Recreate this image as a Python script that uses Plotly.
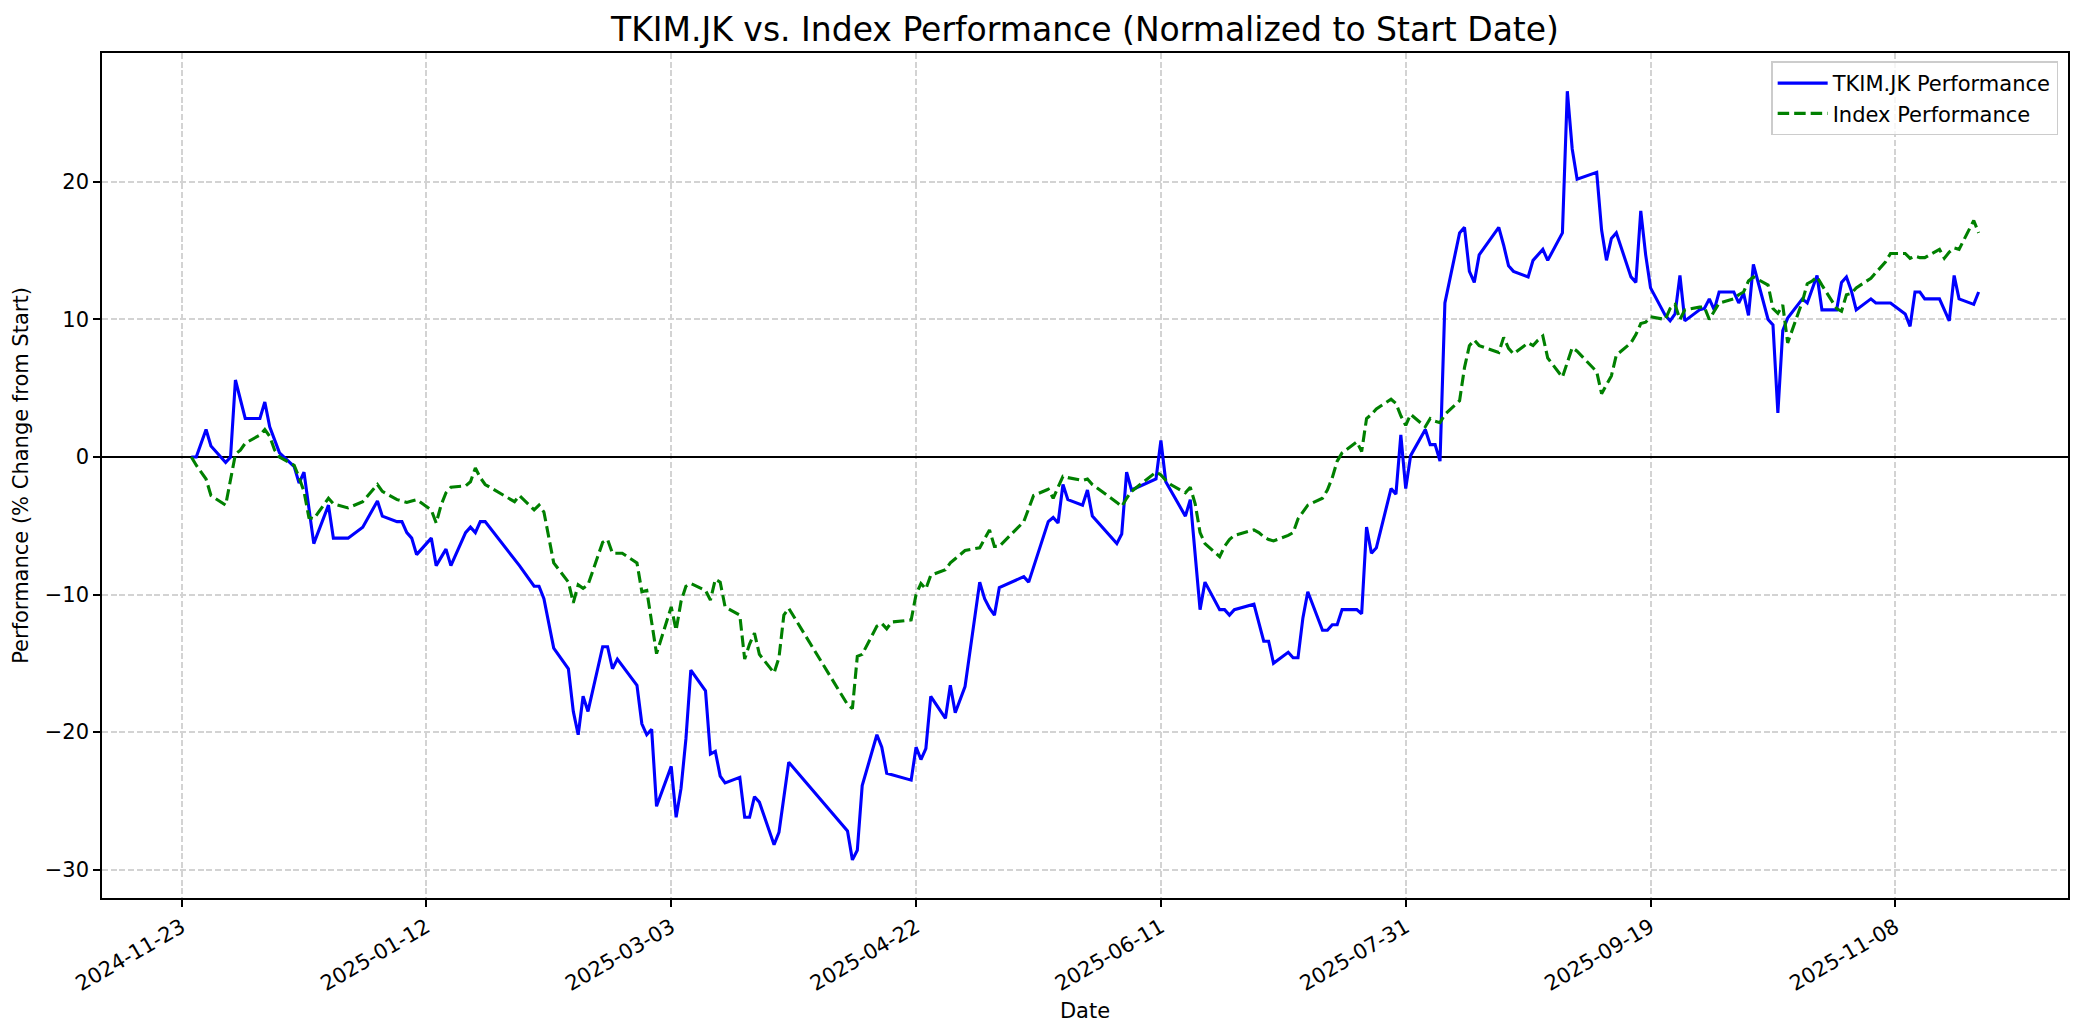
import plotly.graph_objects as go

# ---------------- data ----------------
tkim_dates = [
    "2024-11-25", "2024-11-26", "2024-11-28", "2024-11-29", "2024-12-02", "2024-12-03", "2024-12-04",
    "2024-12-06", "2024-12-09", "2024-12-10", "2024-12-11", "2024-12-13", "2024-12-16", "2024-12-17",
    "2024-12-18", "2024-12-20", "2024-12-23", "2024-12-24", "2024-12-27", "2024-12-30", "2025-01-02",
    "2025-01-03", "2025-01-06", "2025-01-07", "2025-01-08", "2025-01-09", "2025-01-10", "2025-01-13",
    "2025-01-14", "2025-01-16", "2025-01-17", "2025-01-20", "2025-01-21", "2025-01-22", "2025-01-23",
    "2025-01-24", "2025-01-31", "2025-02-03", "2025-02-04", "2025-02-05", "2025-02-07", "2025-02-10",
    "2025-02-11", "2025-02-12", "2025-02-13", "2025-02-14", "2025-02-17", "2025-02-18", "2025-02-19",
    "2025-02-20", "2025-02-24", "2025-02-25", "2025-02-26", "2025-02-27", "2025-02-28", "2025-03-03",
    "2025-03-04", "2025-03-05", "2025-03-06", "2025-03-07", "2025-03-10", "2025-03-11", "2025-03-12",
    "2025-03-13", "2025-03-14", "2025-03-17", "2025-03-18", "2025-03-19", "2025-03-20", "2025-03-21",
    "2025-03-24", "2025-03-25", "2025-03-27", "2025-04-08", "2025-04-09", "2025-04-10", "2025-04-11",
    "2025-04-14", "2025-04-15", "2025-04-16", "2025-04-21", "2025-04-22", "2025-04-23", "2025-04-24",
    "2025-04-25", "2025-04-28", "2025-04-29", "2025-04-30", "2025-05-02", "2025-05-05", "2025-05-06",
    "2025-05-07", "2025-05-08", "2025-05-09", "2025-05-14", "2025-05-15", "2025-05-19", "2025-05-20",
    "2025-05-21", "2025-05-22", "2025-05-23", "2025-05-26", "2025-05-27", "2025-05-28", "2025-06-02",
    "2025-06-03", "2025-06-04", "2025-06-05", "2025-06-10", "2025-06-11", "2025-06-12", "2025-06-16",
    "2025-06-17", "2025-06-19", "2025-06-20", "2025-06-23", "2025-06-24", "2025-06-25", "2025-06-26",
    "2025-06-30", "2025-07-02", "2025-07-03", "2025-07-04", "2025-07-07", "2025-07-08", "2025-07-09",
    "2025-07-10", "2025-07-11", "2025-07-14", "2025-07-15", "2025-07-16", "2025-07-17", "2025-07-18",
    "2025-07-21", "2025-07-22", "2025-07-23", "2025-07-24", "2025-07-25", "2025-07-28", "2025-07-29",
    "2025-07-30", "2025-07-31", "2025-08-01", "2025-08-04", "2025-08-05", "2025-08-06", "2025-08-07",
    "2025-08-08", "2025-08-11", "2025-08-12", "2025-08-13", "2025-08-14", "2025-08-15", "2025-08-19",
    "2025-08-20", "2025-08-21", "2025-08-22", "2025-08-25", "2025-08-26", "2025-08-28", "2025-08-29",
    "2025-09-01", "2025-09-02", "2025-09-03", "2025-09-04", "2025-09-08", "2025-09-09", "2025-09-10",
    "2025-09-11", "2025-09-12", "2025-09-15", "2025-09-16", "2025-09-17", "2025-09-18", "2025-09-19",
    "2025-09-22", "2025-09-23", "2025-09-24", "2025-09-25", "2025-09-26", "2025-09-29", "2025-09-30",
    "2025-10-01", "2025-10-02", "2025-10-03", "2025-10-06", "2025-10-07", "2025-10-08", "2025-10-09",
    "2025-10-10", "2025-10-13", "2025-10-14", "2025-10-15", "2025-10-16", "2025-10-17", "2025-10-20",
    "2025-10-21", "2025-10-23", "2025-10-24", "2025-10-27", "2025-10-28", "2025-10-29", "2025-10-30",
    "2025-10-31", "2025-11-03", "2025-11-04", "2025-11-07", "2025-11-10", "2025-11-11", "2025-11-12",
    "2025-11-13", "2025-11-14", "2025-11-17", "2025-11-19", "2025-11-20", "2025-11-21", "2025-11-24",
    "2025-11-25",
]
tkim_values = [
    0.0, 0.0, 2.0, 0.8, -0.4, 0.0, 5.6,
    2.8, 2.8, 4.0, 2.2, 0.3, -0.7, -1.9,
    -1.1, -6.3, -3.5, -5.9, -5.9, -5.1, -3.2,
    -4.3, -4.7, -4.7, -5.5, -5.9, -7.1, -5.9,
    -7.9, -6.7, -7.9, -5.5, -5.1, -5.5, -4.7,
    -4.7, -7.9, -9.4, -9.4, -10.3, -13.9, -15.4,
    -18.5, -20.2, -17.4, -18.5, -13.8, -13.8, -15.4,
    -14.7, -16.6, -19.4, -20.2, -19.8, -25.4, -22.5,
    -26.2, -24.1, -20.5, -15.5, -17.0, -21.6, -21.4,
    -23.2, -23.7, -23.3, -26.2, -26.2, -24.7, -25.1,
    -28.2, -27.3, -22.2, -27.2, -29.3, -28.6, -23.9,
    -20.2, -21.1, -23.0, -23.5, -21.1, -22.0, -21.2,
    -17.4, -19.0, -16.6, -18.6, -16.7, -9.1, -10.3,
    -11.0, -11.5, -9.5, -8.7, -9.1, -4.7, -4.4,
    -4.8, -2.0, -3.1, -3.5, -2.4, -4.3, -6.3,
    -5.6, -1.1, -2.4, -1.6, 1.2, -1.8, -4.3,
    -3.1, -11.1, -9.1, -11.1, -11.1, -11.5, -11.1,
    -10.7, -13.4, -13.4, -15.0, -14.2, -14.6, -14.6,
    -11.7, -9.8, -12.6, -12.6, -12.2, -12.2, -11.1,
    -11.1, -11.4, -5.1, -7.0, -6.6, -2.3, -2.7,
    1.6, -2.3, 0.1, 2.0, 0.9, 0.9, -0.3,
    11.2, 16.3, 16.7, 13.5, 12.7, 14.7, 16.7,
    15.4, 13.9, 13.5, 13.1, 14.3, 15.1, 14.3,
    16.3, 26.6, 22.4, 20.2, 20.7, 16.5, 14.3,
    15.9, 16.3, 13.1, 12.7, 17.9, 14.7, 12.3,
    10.3, 9.9, 10.4, 13.2, 9.9, 10.7, 10.8,
    11.5, 10.7, 12.0, 12.0, 11.2, 11.9, 10.3,
    14.0, 10.0, 9.6, 3.2, 9.2, 10.1, 11.5,
    11.2, 13.2, 10.7, 10.7, 12.7, 13.1, 12.1,
    10.7, 11.5, 11.2, 11.2, 10.4, 9.5, 12.0,
    12.0, 11.5, 11.5, 9.9, 13.2, 11.5, 11.1,
    12.0,
]

index_dates = [
    "2024-11-25", "2024-11-26", "2024-11-28", "2024-11-29", "2024-12-02", "2024-12-03", "2024-12-04",
    "2024-12-05", "2024-12-06", "2024-12-09", "2024-12-10", "2024-12-11", "2024-12-12", "2024-12-13",
    "2024-12-16", "2024-12-17", "2024-12-18", "2024-12-19", "2024-12-20", "2024-12-23", "2024-12-24",
    "2024-12-27", "2024-12-30", "2025-01-02", "2025-01-03", "2025-01-06", "2025-01-07", "2025-01-08",
    "2025-01-09", "2025-01-10", "2025-01-13", "2025-01-14", "2025-01-15", "2025-01-16", "2025-01-17",
    "2025-01-20", "2025-01-21", "2025-01-22", "2025-01-23", "2025-01-24", "2025-01-30", "2025-01-31",
    "2025-02-03", "2025-02-04", "2025-02-05", "2025-02-06", "2025-02-07", "2025-02-10", "2025-02-11",
    "2025-02-12", "2025-02-13", "2025-02-14", "2025-02-17", "2025-02-18", "2025-02-19", "2025-02-20",
    "2025-02-21", "2025-02-24", "2025-02-25", "2025-02-26", "2025-02-27", "2025-02-28", "2025-03-03",
    "2025-03-04", "2025-03-05", "2025-03-06", "2025-03-07", "2025-03-10", "2025-03-11", "2025-03-12",
    "2025-03-13", "2025-03-14", "2025-03-17", "2025-03-18", "2025-03-19", "2025-03-20", "2025-03-21",
    "2025-03-24", "2025-03-25", "2025-03-26", "2025-03-27", "2025-04-08", "2025-04-09", "2025-04-10",
    "2025-04-11", "2025-04-14", "2025-04-15", "2025-04-16", "2025-04-17", "2025-04-21", "2025-04-22",
    "2025-04-23", "2025-04-24", "2025-04-25", "2025-04-28", "2025-04-29", "2025-04-30", "2025-05-02",
    "2025-05-05", "2025-05-06", "2025-05-07", "2025-05-08", "2025-05-09", "2025-05-14", "2025-05-15",
    "2025-05-16", "2025-05-19", "2025-05-20", "2025-05-21", "2025-05-22", "2025-05-23", "2025-05-26",
    "2025-05-27", "2025-05-28", "2025-06-02", "2025-06-03", "2025-06-04", "2025-06-05", "2025-06-10",
    "2025-06-11", "2025-06-12", "2025-06-13", "2025-06-16", "2025-06-17", "2025-06-18", "2025-06-19",
    "2025-06-20", "2025-06-23", "2025-06-24", "2025-06-25", "2025-06-26", "2025-06-30", "2025-07-01",
    "2025-07-02", "2025-07-03", "2025-07-04", "2025-07-07", "2025-07-08", "2025-07-09", "2025-07-10",
    "2025-07-11", "2025-07-14", "2025-07-15", "2025-07-16", "2025-07-17", "2025-07-18", "2025-07-21",
    "2025-07-22", "2025-07-23", "2025-07-24", "2025-07-25", "2025-07-28", "2025-07-29", "2025-07-30",
    "2025-07-31", "2025-08-01", "2025-08-04", "2025-08-05", "2025-08-06", "2025-08-07", "2025-08-08",
    "2025-08-11", "2025-08-12", "2025-08-13", "2025-08-14", "2025-08-15", "2025-08-19", "2025-08-20",
    "2025-08-21", "2025-08-22", "2025-08-25", "2025-08-26", "2025-08-27", "2025-08-28", "2025-08-29",
    "2025-09-01", "2025-09-02", "2025-09-03", "2025-09-04", "2025-09-08", "2025-09-09", "2025-09-10",
    "2025-09-11", "2025-09-12", "2025-09-15", "2025-09-16", "2025-09-17", "2025-09-18", "2025-09-19",
    "2025-09-22", "2025-09-23", "2025-09-24", "2025-09-25", "2025-09-26", "2025-09-29", "2025-09-30",
    "2025-10-01", "2025-10-02", "2025-10-03", "2025-10-06", "2025-10-07", "2025-10-08", "2025-10-09",
    "2025-10-10", "2025-10-13", "2025-10-14", "2025-10-15", "2025-10-16", "2025-10-17", "2025-10-20",
    "2025-10-21", "2025-10-22", "2025-10-23", "2025-10-24", "2025-10-27", "2025-10-28", "2025-10-29",
    "2025-10-30", "2025-10-31", "2025-11-03", "2025-11-04", "2025-11-05", "2025-11-06", "2025-11-07",
    "2025-11-10", "2025-11-11", "2025-11-12", "2025-11-13", "2025-11-14", "2025-11-17", "2025-11-18",
    "2025-11-19", "2025-11-20", "2025-11-21", "2025-11-24", "2025-11-25",
]
index_values = [
    0.0, -0.6, -1.6, -2.8, -3.5, -1.5, 0.2,
    0.5, 1.0, 1.6, 2.0, 1.5, 0.5, 0.0,
    -0.6, -1.5, -2.5, -4.4, -4.5, -3.0, -3.4,
    -3.7, -3.25, -2.0, -2.5, -3.1, -3.2, -3.3,
    -3.2, -3.1, -3.85, -4.8, -3.5, -2.6, -2.2,
    -2.1, -1.8, -0.8, -1.5, -2.0, -3.25, -2.8,
    -3.85, -3.5, -4.0, -5.9, -7.7, -9.1, -10.6,
    -9.3, -9.55, -9.3, -6.2, -6.0, -7.0, -7.0,
    -7.0, -7.7, -9.8, -9.7, -12.0, -14.3, -10.9,
    -12.6, -10.5, -9.4, -9.2, -9.7, -10.4, -8.9,
    -9.1, -10.9, -11.5, -14.7, -13.6, -12.8, -14.35,
    -15.7, -14.6, -11.5, -11.0, -18.0, -18.3, -14.5,
    -14.35, -12.3, -12.1, -12.5, -12.0, -11.85, -10.0,
    -9.2, -9.6, -8.6, -8.2, -7.7, -7.4, -6.8,
    -6.6, -6.0, -5.3, -6.5, -6.5, -4.7, -3.8,
    -2.8, -2.35, -3.0, -2.2, -1.4, -1.5, -1.7,
    -1.6, -2.0, -3.3, -3.6, -3.0, -2.5, -1.1,
    -1.3, -1.7, -2.0, -2.6, -2.2, -3.4, -5.5,
    -6.3, -7.25, -6.5, -6.0, -5.7, -5.3, -5.5,
    -5.8, -6.0, -6.1, -5.7, -5.5, -4.5, -4.0,
    -3.5, -3.0, -2.4, -1.5, -0.3, 0.3, 1.1,
    0.4, 2.8, 3.1, 3.5, 4.2, 3.9, 3.0,
    2.3, 3.1, 2.2, 2.8, 2.6, 2.5, 3.1,
    4.1, 6.5, 8.1, 8.5, 8.1, 7.6, 8.7,
    7.9, 7.5, 8.3, 8.1, 8.5, 8.8, 7.2,
    5.8, 6.8, 7.95, 7.7, 6.2, 4.6, 5.3,
    5.9, 7.4, 8.3, 8.9, 9.7, 9.8, 10.2,
    10.0, 10.8, 11.1, 10.0, 10.7, 10.9, 10.9,
    10.0, 10.6, 11.2, 11.5, 11.8, 12.0, 12.8,
    13.1, 12.5, 10.8, 10.45, 11.05, 8.3, 11.3,
    12.6, 12.8, 13.1, 12.5, 10.8, 10.6, 11.8,
    11.9, 12.3, 13.0, 13.4, 13.8, 14.2, 14.8,
    14.8, 14.45, 14.6, 14.5, 14.5, 15.1, 14.45,
    14.9, 15.2, 15.1, 17.2, 16.3,
]

tick_dates = ["2024-11-23", "2025-01-12", "2025-03-03", "2025-04-22",
              "2025-06-11", "2025-07-31", "2025-09-19", "2025-11-08"]
y_ticks = [-30, -20, -10, 0, 10, 20]

# ---------------- figure ----------------
FONT = "DejaVu Sans"
fig = go.Figure()
fig.add_trace(go.Scatter(
    x=tkim_dates, y=tkim_values, mode="lines", name="TKIM.JK Performance",
    line=dict(color="#0000ff", width=3.1),
))
fig.add_trace(go.Scatter(
    x=index_dates, y=index_values, mode="lines", name="Index Performance",
    line=dict(color="#008000", width=3.1, dash="11.5px,5px"),
))

fig.update_layout(
    width=2084, height=1035,
    margin=dict(l=102, r=16, t=53, b=137),
    paper_bgcolor="white", plot_bgcolor="white",
    font=dict(family=FONT, size=21, color="black"),
    title=dict(text="TKIM.JK vs. Index Performance (Normalized to Start Date)",
               x=(102 + 1966 / 2) / 2084, xanchor="center",
               y=1 - 29 / 1035, yanchor="middle",
               font=dict(family=FONT, size=33, color="black")),
    showlegend=True,
    legend=dict(x=0.995, y=0.99, xanchor="right", yanchor="top",
                bgcolor="rgba(255,255,255,0.8)", bordercolor="#cccccc", borderwidth=1.5,
                font=dict(family=FONT, size=21, color="black"),
                itemwidth=50, tracegroupgap=4),
)

fig.update_xaxes(
    type="date",
    range=["2024-11-06 18:00", "2025-12-13 06:00"],
    tickmode="array", tickvals=tick_dates, ticktext=tick_dates,
    tickangle=-30,
    ticks="outside", ticklen=7, tickwidth=1.6, tickcolor="black",
    showline=True, linecolor="black", linewidth=1.6, mirror=True,
    showgrid=True, gridcolor="#d3d3d3", gridwidth=1.6, griddash="6px,2.7px",
    zeroline=False,
    title=dict(text="Date", font=dict(family=FONT, size=21), standoff=8),
)
fig.update_yaxes(
    range=[-32.07, 29.38],
    tickmode="array", tickvals=y_ticks,
    ticks="outside", ticklen=7, tickwidth=1.6, tickcolor="black",
    showline=True, linecolor="black", linewidth=1.6, mirror=True,
    showgrid=True, gridcolor="#d3d3d3", gridwidth=1.6, griddash="6px,2.7px",
    zeroline=True, zerolinecolor="black", zerolinewidth=1.5,
    title=dict(text="Performance (% Change from Start)", font=dict(family=FONT, size=21), standoff=10),
)

fig.write_html("out.html",
               config={"displayModeBar": False},
               post_script="document.body.style.margin='0';document.body.style.overflow='hidden';")
